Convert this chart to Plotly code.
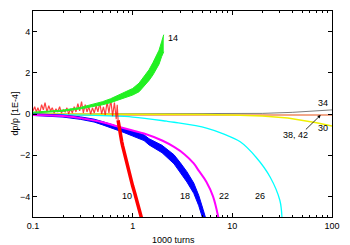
import numpy as np
import plotly.graph_objects as go

# ---- data ----
red_x = [0.100,0.104,0.108,0.112,0.117,0.122,0.127,0.132,0.138,0.144,
         0.150,0.156,0.163,0.170,0.177,0.185,0.193,0.201,0.210,0.219,
         0.228,0.238,0.248,0.259,0.270,0.282,0.294,0.307,0.320,0.334,
         0.348,0.363,0.379,0.395,0.412,0.430,0.448,0.468,0.488,0.509,
         0.531,0.554,0.578,0.603,0.629,0.656,0.684,0.700,0.714,0.730,
         0.745,0.760,0.777,0.793,0.830,0.890,0.950,1.000,1.050,1.100,
         1.150,1.200,1.250]
red_y = [0.15,0.35,0.10,0.30,0.05,0.45,0.20,0.55,0.10,0.40,
         0.15,0.30,0.05,0.25,0.10,0.35,0.05,0.20,0.10,0.30,
         0.00,0.25,0.05,0.35,0.10,0.50,0.15,0.60,0.05,0.45,
         0.10,0.35,0.00,0.30,0.05,0.40,0.10,0.55,0.00,0.35,
         -0.05,0.60,0.05,0.70,-0.10,0.55,-0.25,0.45,-0.30,-0.65,
         -0.85,-1.15,-1.35,-1.55,-1.95,-2.60,-3.10,-3.50,-3.85,-4.20,
         -4.50,-4.85,-5.20]
red_split = 48  # index where the noisy part turns into the falling tail

green_x = [0.1,0.15,0.2,0.3,0.4,0.5,0.6,0.73,0.85,1.0,1.16,1.3,1.46,1.6,1.75,1.84,1.95,2.05]
green_hi = [0.09,0.14,0.19,0.32,0.46,0.60,0.74,0.94,1.10,1.24,1.50,1.80,2.15,2.50,2.85,3.10,3.50,3.85]
green_lo = [0.05,0.09,0.13,0.25,0.35,0.45,0.55,0.69,0.81,0.92,1.08,1.33,1.63,1.90,2.20,2.42,2.78,3.02]

blue_x = [0.1,0.2,0.3,0.41,0.5,0.65,0.8,1.0,1.3,1.46,1.97,2.6,3.0,3.5,4.1,4.6,5.1,5.4]
blue_hi = [0.01,-0.05,-0.14,-0.25,-0.37,-0.53,-0.68,-0.83,-1.01,-1.20,-1.52,-1.98,-2.36,-2.80,-3.35,-3.95,-4.65,-5.05]
blue_lo = [-0.07,-0.15,-0.26,-0.39,-0.53,-0.71,-0.88,-1.07,-1.29,-1.50,-1.88,-2.42,-2.84,-3.30,-3.85,-4.45,-5.15,-5.55]

mag_x = [0.1,0.2,0.3,0.5,0.7,1.0,1.3,2.0,2.6,3.3,4.1,4.6,5.5,6.4,7.3]
mag_y = [-0.05,-0.10,-0.20,-0.40,-0.60,-0.80,-0.95,-1.30,-1.60,-1.95,-2.40,-2.75,-3.30,-4.00,-5.10]

cyan_x = [0.1,0.3,1.0,2.2,2.6,5.5,8.0,12.0,17.3,24.0,30.0,31.5]
cyan_y = [-0.02,-0.05,-0.15,-0.35,-0.40,-0.68,-0.95,-1.35,-2.10,-3.07,-4.20,-5.10]

yel_x = [0.1,1.0,5.0,10.0,20.0,36.0,50.0,70.0,100.0]
yel_y = [0.0,0.0,-0.02,-0.05,-0.10,-0.20,-0.30,-0.42,-0.58]

blk_x = [0.1,10.0,20.0,40.0,70.0,100.0]
blk_y = [0.0,0.0,0.03,0.08,0.14,0.20]

sal_x = [0.1,1.0,10.0,100.0]
sal_y = [-0.05,-0.05,-0.05,-0.05]

labels = ["10","14","18","22","26","30","34","38, 42"]
label_x = [0.875,2.53,3.33,8.3,18.9,82.0,82.0,43.0]
label_y = [-4.0,3.68,-4.0,-4.0,-4.0,-0.69,0.53,-1.03]

x_ticks = [0.1,1,10,100]
x_ticktext = ["0.1","1","10","100"]
y_ticks = [-4,-2,0,2,4]

fig = go.Figure()

def band(x, lo, hi, color):
    fig.add_trace(go.Scatter(x=x, y=lo, mode="lines", line=dict(color=color, width=1),
                             hoverinfo="skip", showlegend=False))
    fig.add_trace(go.Scatter(x=x, y=hi, mode="lines", line=dict(color=color, width=1),
                             fill="tonexty", fillcolor=color, hoverinfo="skip", showlegend=False))

fig.add_trace(go.Scatter(x=sal_x, y=sal_y, mode="lines", line=dict(color="#f2a88a", width=2), showlegend=False))
fig.add_trace(go.Scatter(x=blk_x, y=blk_y, mode="lines", line=dict(color="#444444", width=0.7), showlegend=False))
fig.add_trace(go.Scatter(x=yel_x, y=yel_y, mode="lines", line=dict(color="#f0f000", width=1.5), showlegend=False))
fig.add_trace(go.Scatter(x=cyan_x, y=cyan_y, mode="lines", line=dict(color="#00ffff", width=1.3, shape="spline"), showlegend=False))
band(blue_x, blue_lo, blue_hi, "#0000ff")
fig.add_trace(go.Scatter(x=mag_x, y=mag_y, mode="lines", line=dict(color="#ff00ff", width=2, shape="spline"), showlegend=False))
fig.add_trace(go.Scatter(x=red_x[:red_split + 1], y=red_y[:red_split + 1], mode="lines",
                         line=dict(color="rgba(255,0,0,0.75)", width=1.2), showlegend=False))
fig.add_trace(go.Scatter(x=red_x[red_split:], y=red_y[red_split:], mode="lines",
                         line=dict(color="#ff0000", width=3.5), showlegend=False))
band(green_x, green_lo, green_hi, "#22f022")

ann = []
for t, x, y in zip(labels, label_x, label_y):
    ann.append(dict(x=np.log10(x), y=y, xref="x", yref="y", text=t, showarrow=False,
                    font=dict(size=9, color="black")))
ann.append(dict(x=np.log10(77), y=-0.05, ax=np.log10(52.8), ay=-0.82, axref="x", ayref="y",
                xref="x", yref="y", text="", showarrow=True, arrowhead=2, arrowsize=0.8,
                arrowwidth=0.8, arrowcolor="black"))
ann.append(dict(x=0.47, y=0.0, xref="paper", yref="paper", yanchor="top", yshift=-16,
                text="1000 turns", showarrow=False, font=dict(size=9, color="black")))
ann.append(dict(x=-0.085, y=0.5, xref="paper", yref="paper", textangle=-90,
                text="dp/p [1E-4]", showarrow=False, font=dict(size=9, color="black")))

minor_vals = [0.2,0.3,0.4,0.5,0.6,0.7,0.8,0.9,2,3,4,5,6,7,8,9,20,30,40,50,60,70,80,90]

fig.update_layout(
    width=350, height=245,
    margin=dict(l=33, r=16, t=10, b=28),
    paper_bgcolor="white", plot_bgcolor="white",
    font=dict(family="Liberation Sans, Arial, sans-serif", size=9, color="black"),
    annotations=ann,
    xaxis=dict(type="log", range=[-1, 2], tickvals=x_ticks, ticktext=x_ticktext,
               ticks="inside", ticklen=4, tickcolor="black", showgrid=False, zeroline=False,
               showline=True, linecolor="black", linewidth=1, mirror="allticks",
               minor=dict(tickvals=minor_vals, ticks="inside", ticklen=2, tickcolor="black", showgrid=False)),
    yaxis=dict(range=[-5, 5], tickvals=y_ticks, ticks="inside", ticklen=4, tickcolor="black",
               showgrid=False, zeroline=False, showline=True, linecolor="black", linewidth=1,
               mirror="allticks"),
    showlegend=False,
)

fig.write_html("out.html", config={"displayModeBar": False},
               post_script="document.body.style.margin='0';")
